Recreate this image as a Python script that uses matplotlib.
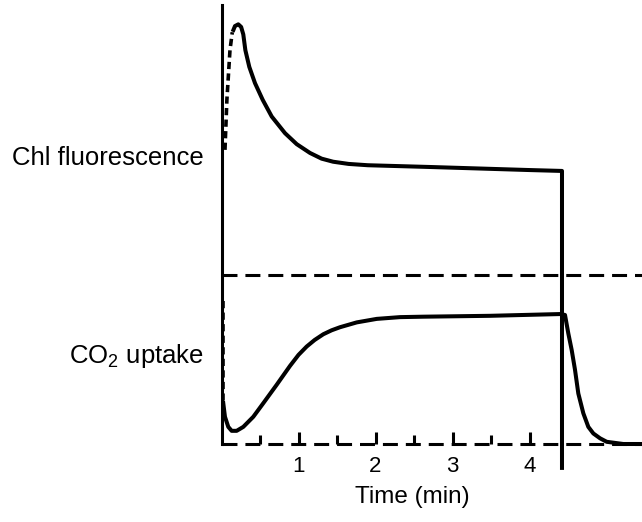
import matplotlib
matplotlib.use("Agg")
import matplotlib.pyplot as plt

plt.rcParams['font.family'] = ['Liberation Sans', 'DejaVu Sans']
plt.rcParams['mathtext.fontset'] = 'custom'
plt.rcParams['mathtext.rm'] = 'Liberation Sans'

# chlorophyll fluorescence: fast dashed rise, then solid decay to a steady state
fluo_rise_t = [0.045, 0.07, 0.11, 0.14]
fluo_rise_v = [67.0, 78.4, 89.7, 93.8]
fluo_t = [0.145, 0.175, 0.218, 0.255, 0.283, 0.310, 0.361, 0.435, 0.535,
          0.652, 0.825, 0.977, 1.149, 1.300, 1.450, 1.650, 1.900, 2.708,
          4.006, 4.422, 4.422]
fluo_v = [93.9, 95.2, 95.6, 95.0, 93.3, 89.7, 85.9, 82.2, 78.4,
          74.6, 70.8, 68.3, 66.3, 65.0, 64.3, 63.8, 63.5, 63.1,
          62.4, 62.2, -5.9]

# CO2 uptake: dashed drop, dip, slow rise, then decay after light off
co2_drop_t = [0.02, 0.02]
co2_drop_v = [32.5, 9.5]
co2_t = [0.023, 0.045, 0.088, 0.132, 0.197, 0.283, 0.413, 0.543, 0.717,
         0.890, 1.000, 1.106, 1.210, 1.322, 1.430, 1.539, 1.756, 2.016,
         2.318, 2.621, 3.487, 4.396, 4.461, 4.504, 4.548, 4.591, 4.634,
         4.699, 4.764, 4.829, 4.916, 5.003, 5.218, 5.461]
co2_v = [9.3, 6.2, 3.9, 3.0, 3.0, 3.9, 6.2, 9.3, 13.5,
         17.8, 20.3, 22.2, 23.7, 25.0, 25.9, 26.6, 27.7, 28.5,
         28.9, 29.0, 29.2, 29.6, 29.4, 25.2, 21.4, 16.9, 11.5,
         7.0, 3.9, 2.4, 1.3, 0.5, 0.0, 0.0]

major_ticks = [1, 2, 3, 4]
minor_ticks = [0.5, 1.5, 2.5, 3.5]
divider_level = 38.5

W, H = 642, 522
fig = plt.figure(figsize=(W / 100, H / 100), dpi=100)
ax = fig.add_axes([221.5 / W, (H - 444) / H, 420.5 / W, 439 / H])
ax.set_xlim(0, 420.5 / 77)
ax.set_ylim(0, 100)

for s in ['top', 'right', 'bottom']:
    ax.spines[s].set_visible(False)
ax.spines['left'].set_linewidth(2.2)
ax.set_yticks([])

dash = (0, (4.9, 2.6))
ax.axhline(0, color='black', lw=2.2, ls=dash, clip_on=False)
ax.axhline(divider_level, color='black', lw=2.2, ls=dash)

ax.plot(fluo_rise_t, fluo_rise_v, color='black', lw=2.6, ls=(0, (2, 1.2)))
ax.plot(fluo_t, fluo_v, color='black', lw=2.9, clip_on=False,
        solid_joinstyle='round', solid_capstyle='butt')
ax.plot(co2_drop_t, co2_drop_v, color='black', lw=2.6, ls=(0, (2, 1.2)))
ax.plot(co2_t, co2_v, color='black', lw=2.9, solid_joinstyle='round',
        clip_on=False)

ax.set_xticks(major_ticks)
ax.set_xticklabels([str(t) for t in major_ticks])
ax.set_xticks(minor_ticks, minor=True)
ax.tick_params(axis='x', which='major', direction='in', length=8.6, width=2.2,
               pad=9, labelsize=16)
ax.tick_params(axis='x', which='minor', direction='in', length=6.5, width=2.2)

fig.text(204 / W, 1 - 158 / H, 'Chl fluorescence', ha='right', va='center',
         fontsize=18.5)
fig.text(204 / W, 1 - 356 / H, r'CO$_\mathregular{2}$ uptake', ha='right',
         va='center', fontsize=18.5)
fig.text(412 / W, 1 - 497 / H, 'Time (min)', ha='center', va='center',
         fontsize=17.5)

fig.savefig('out.png', dpi=100)
